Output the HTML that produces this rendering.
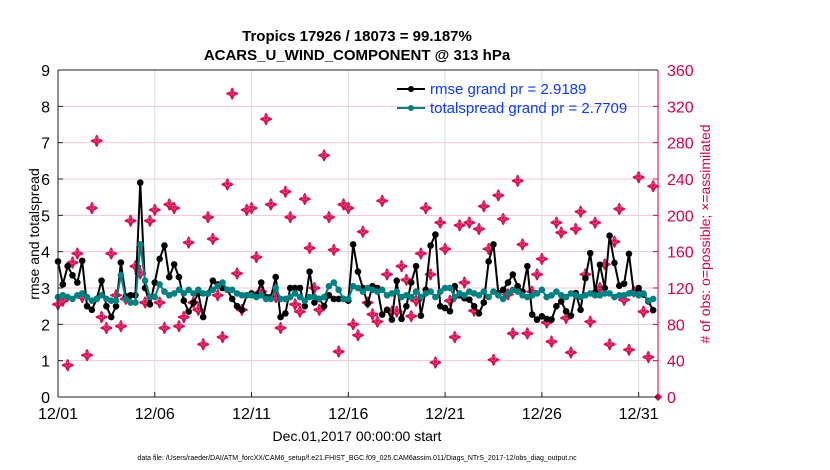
<!DOCTYPE html>
<html><head><meta charset="utf-8"><style>
body{margin:0;background:#fff;}
svg{display:block;font-family:"Liberation Sans",sans-serif;}
</style></head><body>
<svg id="chart" width="830" height="470" viewBox="0 0 830 470">
<text x="357" y="41" text-anchor="middle" font-size="15" font-weight="bold">Tropics 17926 / 18073 = 99.187%</text>
<text x="357" y="60" text-anchor="middle" font-size="15" font-weight="bold">ACARS_U_WIND_COMPONENT @ 313 hPa</text>
<g id="grid"></g><g id="marks"></g><g id="axes"></g>
<text transform="translate(39,234) rotate(-90)" text-anchor="middle" font-size="14">rmse and totalspread</text>
<text transform="translate(710,234) rotate(-90)" text-anchor="middle" font-size="14" fill="#d6004f"># of obs: o=possible; ×=assimilated</text>
<text x="357" y="441" text-anchor="middle" font-size="14">Dec.01,2017 00:00:00 start</text>
<text x="357" y="460" text-anchor="middle" font-size="7">data file: /Users/raeder/DAI/ATM_forcXX/CAM6_setup/f.e21.FHIST_BGC.f09_025.CAM6assim.011/Diags_NTrS_2017-12/obs_diag_output.nc</text>
<g>
<line x1="397" y1="89" x2="425" y2="89" stroke="#000" stroke-width="2"/><circle cx="411" cy="89" r="3" fill="#000"/>
<text x="430" y="94" font-size="15" fill="#0a3cff">rmse grand pr = 2.9189</text>
<line x1="397" y1="108" x2="425" y2="108" stroke="#008080" stroke-width="2"/><circle cx="411" cy="108" r="3" fill="#008080"/>
<text x="430" y="113" font-size="15" fill="#0a3cff">totalspread grand pr = 2.7709</text>
</g>
</svg>
<script>
const rmse=[3.73,3.1,3.6,3.35,3.15,3.75,2.5,2.4,2.7,3.2,2.5,2.2,2.5,3.7,2.77,2.8,2.8,5.9,3.0,2.55,3.15,3.8,4.17,3.3,3.65,3.3,2.65,2.35,2.6,2.85,2.2,2.85,3.2,3.1,3.0,2.95,2.7,2.5,2.4,2.8,2.85,2.8,3.15,2.75,2.75,3.3,2.2,2.3,3.0,3.0,3.0,2.5,3.45,2.6,2.7,2.5,2.8,2.7,2.7,2.7,2.65,4.2,3.45,3.0,
2.57,3.05,3.0,2.27,2.4,2.13,3.2,2.15,2.5,3.15,3.6,2.24,2.95,4.17,4.47,2.5,2.45,2.36,3.05,2.8,2.72,2.68,2.5,2.3,2.6,3.73,4.2,2.86,2.95,3.15,3.37,3.05,2.9,3.6,2.27,2.13,2.22,2.15,2.13,2.5,2.63,2.36,2.24,2.86,2.4,3.27,3.96,2.88,3.64,3.0,4.44,3.69,3.06,3.12,3.94,2.86,3.0,2.82,2.63,2.39];
const spread=[2.75,2.8,2.75,2.7,2.8,2.85,2.75,2.65,2.7,2.8,2.7,2.65,2.65,3.35,2.7,2.6,2.6,4.2,3.2,2.75,2.75,3.1,2.9,2.8,2.85,2.95,2.85,2.95,2.85,2.95,2.85,2.85,2.95,3.05,3.15,2.95,2.95,2.85,2.8,2.8,2.8,2.75,2.8,2.7,2.7,3.0,2.7,2.7,2.75,2.85,2.75,2.65,2.75,2.75,2.7,2.75,3.05,3.15,2.95,2.7,2.7,3.05,3.0,
2.9,3.0,2.95,2.9,2.95,2.8,2.85,2.9,2.75,2.8,2.75,2.9,2.75,2.85,2.9,2.75,2.9,3.0,3.0,2.75,2.85,2.8,2.9,2.85,2.8,2.9,2.75,2.9,2.8,2.7,2.85,2.95,2.9,2.8,2.75,2.8,2.85,2.95,2.75,2.8,2.9,2.8,2.75,2.85,2.8,2.75,2.8,2.85,2.8,2.8,2.85,2.85,2.75,2.8,2.8,2.85,2.85,2.8,2.85,2.65,2.7];
const nAssim=[102,106,35,148,158,110,46,208,282,88,76,158,112,78,108,194,144,136,104,194,206,104,76,212,208,78,88,170,104,96,58,198,174,112,66,234,334,136,96,206,208,154,116,306,212,110,76,226,198,102,94,218,164,120,96,266,198,162,50,212,208,80,68,182,
104,91,83,216,135,94,94,144,129,89,106,158,208,135,38,192,163,106,66,189,126,192,95,185,210,163,41,222,196,113,70,238,168,70,116,135,152,82,61,192,181,87,49,185,204,135,83,192,120,146,58,171,207,107,52,116,242,94,44,232];
const nPoss=nAssim.slice();
const dateTicks=["12/01","12/06","12/11","12/16","12/21","12/26","12/31"];
const yTicks=[0,1,2,3,4,5,6,7,8,9];
const y2Ticks=[0,40,80,120,160,200,240,280,320,360];

const NS="http://www.w3.org/2000/svg";
const X0=58,X1=658,Y0=397,Y1=70,DAYS=31;
const xs=d=>X0+(X1-X0)*d/DAYS;
const ys=v=>Y0-(Y0-Y1)*v/9;
const ys2=c=>Y0-(Y0-Y1)*c/360;
function mk(tag,attrs,parent){const e=document.createElementNS(NS,tag);for(const k in attrs)e.setAttribute(k,attrs[k]);parent.appendChild(e);return e;}
const grid=document.getElementById('grid'),marks=document.getElementById('marks'),axes=document.getElementById('axes');
mk('rect',{x:X0,y:Y1,width:X1-X0,height:Y0-Y1,fill:'#fff'},grid);
yTicks.forEach(v=>{const l=mk('line',{x1:X0,x2:X1,y1:ys(v),y2:ys(v),stroke:'#f2c4d4','stroke-width':1},grid);

const t=mk('text',{x:X0-8,y:ys(v)+6,'text-anchor':'end','font-size':16},axes);t.textContent=v;

mk('line',{x1:X0,x2:X0+5,y1:ys(v),y2:ys(v),stroke:'#222'},axes);});
dateTicks.forEach((s,i)=>{const x=xs(i*5);const l=mk('line',{x1:x,x2:x,y1:Y1,y2:Y0,stroke:'#ddd','stroke-width':1},grid);

mk('line',{x1:x,x2:x,y1:Y0,y2:Y0-5,stroke:'#222'},axes);
const t=mk('text',{x:x,y:Y0+22,'text-anchor':'middle','font-size':16},axes);t.textContent=s;
});
y2Ticks.forEach(c=>{mk('line',{x1:X1,x2:X1-5,y1:ys2(c),y2:ys2(c),stroke:'#d6004f'},axes);
const t=mk('text',{x:X1+9,y:ys2(c)+6,'font-size':16,fill:'#d6004f'},axes);t.textContent=c;
});
mk('line',{x1:X0,x2:X1,y1:Y0,y2:Y0,stroke:'#222'},axes);
mk('line',{x1:X0,x2:X1,y1:Y1,y2:Y1,stroke:'#222'},axes);
mk('line',{x1:X0,x2:X0,y1:Y1,y2:Y0,stroke:'#222'},axes);
mk('line',{x1:X1,x2:X1,y1:Y1,y2:Y0,stroke:'#d6004f'},axes);
nAssim.forEach((c,i)=>{const x=xs(i*0.25),y=ys2(c);
const g=mk('path',{d:`M${x-5},${y}L${x-1.5},${y-1.5}L${x},${y-5}L${x+1.5},${y-1.5}L${x+5},${y}L${x+1.5},${y+1.5}L${x},${y+5}L${x-1.5},${y+1.5}Z`,fill:'#d80f55',stroke:'#d80f55','stroke-width':2,'stroke-linejoin':'round'},marks);
});
nPoss.forEach((c,i)=>{const x=xs(i*0.25),y=ys2(c);
const g=mk('circle',{cx:x,cy:y-1,r:2,fill:'none',stroke:'#e0507f','stroke-width':1},marks);
});
function series(arr,col,name){const pts=arr.map((v,i)=>xs(i*0.25)+','+ys(v)).join(' ');
const pl=mk('polyline',{points:pts,fill:'none',stroke:col,'stroke-width':2},marks);

arr.forEach((v,i)=>{const c=mk('circle',{cx:xs(i*0.25),cy:ys(v),r:3.3,fill:col},marks);
});}
series(rmse,'#000','rmse');
series(spread,'#008080','totalspread');
mk('path',{d:`M${X1-4},${Y0}L${X1},${Y0-4}L${X1+4},${Y0}L${X1},${Y0+4}Z`,fill:'#d6004f'},marks);
</script>
</body></html>
